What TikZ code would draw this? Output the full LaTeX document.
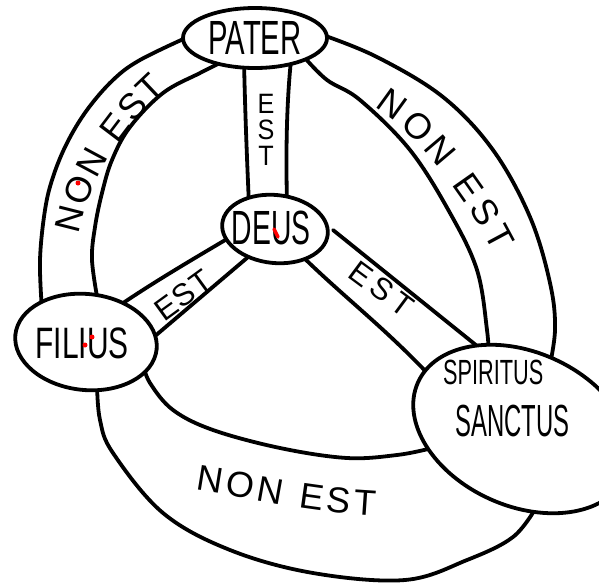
\documentclass[tikz,border=0pt]{standalone}
\usepackage{fontspec}
\usepackage{graphicx}
\setmainfont{Liberation Sans}
\usetikzlibrary{shapes.geometric,backgrounds,decorations.text}
\newcommand\hw[3]{\scalebox{#2}[1]{\fontsize{#1}{#1}\selectfont #3}}
\newcommand\zb[1]{\makebox[0pt]{\raisebox{-.5\height}[0pt][0pt]{#1}}}
\newcommand\bandfont{\fontsize{36}{36}\selectfont}
\newcommand\estfont{\fontsize{31}{31}\selectfont}
\begin{document}
\begin{tikzpicture}[x=1pt,y=-1pt,
  ink/.style={line width=3.8pt,line cap=round,line join=round},
  oval/.style={ellipse,draw,ink,fill=white,inner sep=0pt},
  lbl/.style={inner sep=0pt},
  arclabel/.style={decorate,decoration={text along path,text align=fit to path,
     text={|\bandfont|#1}}},
  estlabel/.style={decorate,decoration={text along path,text align=fit to path,
     text={|\estfont|#1}}},
  redmark/.style={red,fill=red}]
\useasboundingbox (0,0) rectangle (599,584);

% persons and God
\node[oval,minimum width=144pt,minimum height=60pt] (pater) at (255,38) {\zb{\hw{48}{0.61}{PATER}}};
\node[oval,minimum width=106pt,minimum height=68pt,rotate=-6] (deus) at (275,229) {};
\node[lbl] (deustext) at (271,228) {\zb{\hw{48}{0.59}{DEUS}}};
\node[oval,minimum width=142pt,minimum height=96pt,rotate=-6] (filius) at (86,342) {};
\node[lbl] (filiustext) at (82,343) {\zb{\hw{44}{0.68}{FILIUS}}};
\node[oval,minimum width=228pt,minimum height=154pt,rotate=-24] (spiritus) at (522,429) {};
\node[lbl,align=left,anchor=north west,font=\fontsize{35}{52}\selectfont] (spiritustext) at (443,360)
  {\hw{35}{0.62}{SPIRITUS}\\\hspace*{12pt}\hw{45}{0.53}{SANCTUS}};

% end points
\coordinate (pdla) at (244,60);  \coordinate (pdlb) at (249,205);
\coordinate (pdra) at (291,60);  \coordinate (pdrb) at (287,204);
\coordinate (dfua) at (232,236); \coordinate (dfub) at (110,312);
\coordinate (dfla) at (254,252); \coordinate (dflb) at (148,342);
\coordinate (dsua) at (333,230); \coordinate (dsub) at (492,358);
\coordinate (dsla) at (302,256); \coordinate (dslb) at (432,378);
\coordinate (pfoa) at (190,36);  \coordinate (pfob) at (42,310);
\coordinate (pfia) at (226,60);  \coordinate (pfib) at (98,302);
\coordinate (psoa) at (320,34);  \coordinate (psob) at (548,374);
\coordinate (psia) at (305,58);  \coordinate (psib) at (489,360);
\coordinate (fsoa) at (97,384);  \coordinate (fsob) at (537,506);
\coordinate (fsia) at (143,364); \coordinate (fsib) at (428,449);

\begin{scope}[on background layer]
  \fill[white] (0,0) rectangle (599,584);
  % Pater - Deus
  \draw[ink] (pdla) .. controls (245,110) and (247,160) .. (pdlb);
  \draw[ink] (pdra) .. controls (286,110) and (286,160) .. (pdrb);
  % Deus - Filius
  \draw[ink] (dfua) .. controls (195,258) and (150,284) .. (dfub);
  \draw[ink] (dfla) -- (dflb);
  % Deus - Spiritus
  \draw[ink] (dsua) -- (dsub);
  \draw[ink] (dsla) .. controls (345,298) and (385,328) .. (dslb);
  % Pater - Filius
  \draw[ink] plot[smooth,tension=0.6] coordinates {(pfoa) (140,60) (113,80) (87,110) (67,143) (53,177) (45,210) (40,260) (pfob)};
  \draw[ink] plot[smooth,tension=0.6] coordinates {(pfia) (200,73) (163,93) (130,127) (112,160) (102,193) (95,227) (92,260) (pfib)};
  % Pater - Spiritus
  \draw[ink] plot[smooth,tension=0.6] coordinates {(psoa) (377,57) (443,97) (493,150) (530,217) (550,283) (555,330) (psob)};
  \draw[ink] plot[smooth,tension=0.6] coordinates {(psia) (327,80) (360,100) (410,150) (450,213) (477,270) (487,330) (psib)};
  % Filius - Spiritus
  \draw[ink] plot[smooth,tension=0.6] coordinates {(fsoa) (100,420) (113,453) (163,513) (230,550) (313,573) (405,580) (467,560) (513,537) (fsob)};
  \draw[ink] plot[smooth,tension=0.6] coordinates {(fsia) (150,383) (173,410) (213,430) (280,448) (347,458) (397,455) (fsib)};
\end{scope}

% labels on the bands
\node[lbl,align=center,font=\fontsize{28}{26}\selectfont] (est1) at (266,130)
  {\hw{28}{0.9}{E}\\\hw{28}{0.9}{S}\\\hw{28}{0.9}{T}};
\path[estlabel={EST}] (164,322) -- (215,285);
\path[estlabel={EST}] (346,276) -- (404,319);
\path[arclabel={NON EST}] (79,235) .. controls (88,190) and (110,140) .. (167,89);
\path[arclabel={NON EST}] (374,107) .. controls (418,132) and (472,208) .. (494,253);
\path[arclabel={NON EST}] (195,490) .. controls (250,498) and (300,512) .. (375,516);

% red marks
\draw[red,line width=3.5pt,line cap=round] (274,229) -- (278,237);
\fill[redmark] (92,337) circle (2.5pt);
\fill[redmark] (85,345) circle (2.5pt);
\fill[redmark] (78,183) circle (2.5pt);
\end{tikzpicture}
\end{document}
